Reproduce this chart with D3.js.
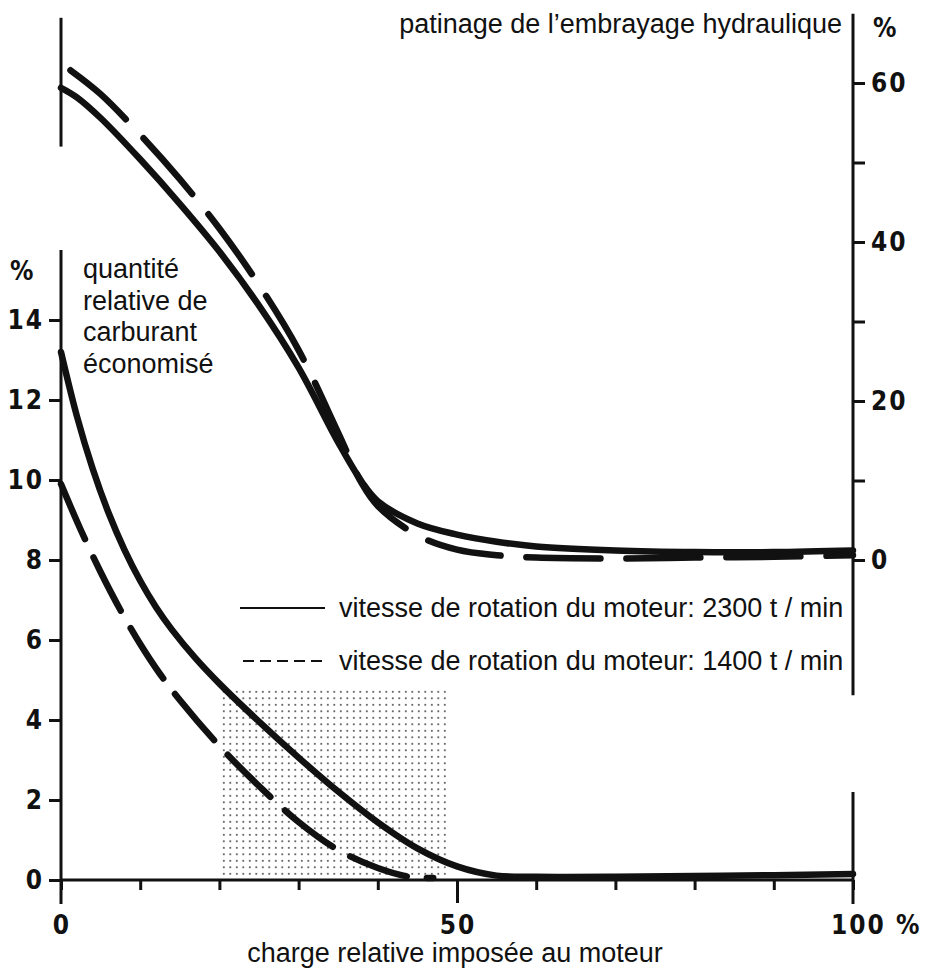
<!DOCTYPE html>
<html>
<head>
<meta charset="utf-8">
<script src="https://cdn.jsdelivr.net/npm/d3@7"></script>
<style>
  body { margin: 0; background: #fff; }
  svg { display: block; }
  .txt { font-family: "Liberation Sans", Arial, Helvetica, sans-serif; font-size: 27px; fill: #111; }
  .num { font-family: "DejaVu Sans Condensed", "DejaVu Sans", sans-serif; font-weight: bold; font-size: 26px; fill: #111; letter-spacing: 2px; }
  .axis path.domain { display: none; }
  .axis line { stroke: #111; stroke-width: 3; }
</style>
</head>
<body>
<div class="chart"></div>
<script>
// ticks
const loadTicks = [0, 10, 20, 30, 40, 50, 60, 70, 80, 90, 100];
const loadLabels = ['0', '50'];
const fuelTicks = [0, 2, 4, 6, 8, 10, 12, 14];
const slipTicks = [0, 10, 20, 30, 40, 50, 60];
const slipLabels = [0, 20, 40, 60];

// quantité relative de carburant économisé (%), 2300 t/min
const fuelLoad2300 = [0, 2, 4, 6, 8, 10, 12, 14, 17, 20, 25, 30, 35, 40, 45, 50, 55, 60, 70, 80, 90, 100];
const fuel2300 = [13.2, 11.6, 10.28, 9.18, 8.26, 7.48, 6.82, 6.26, 5.54, 4.91, 3.96, 3.06, 2.21, 1.44, 0.79, 0.34, 0.11, 0.08, 0.08, 0.1, 0.12, 0.15];
// 1400 t/min
const fuelLoad1400 = [0, 2.5, 5, 7.5, 10, 12.5, 15, 20, 25, 30, 35, 40, 44, 47];
const fuel1400 = [9.9, 8.75, 7.7, 6.75, 5.9, 5.15, 4.5, 3.35, 2.35, 1.45, 0.75, 0.3, 0.08, 0.05];

// patinage de l'embrayage hydraulique (%)
const slipLoad2300 = [0, 2, 5, 10, 15, 20, 25, 30, 35, 38, 40, 45, 50, 55, 60, 70, 80, 90, 100];
const slip2300 = [59.4, 58.2, 55.6, 50.4, 44.8, 38.8, 32.0, 24.2, 14.8, 9.8, 7.4, 4.6, 3.2, 2.3, 1.7, 1.2, 1.0, 1.0, 1.2];
const slipLoad1400 = [1.2, 5, 10, 15, 20, 25, 30, 35, 38, 40, 45, 50, 55, 60, 70, 80, 90, 100];
const slip1400 = [61.6, 58.6, 53.5, 47.9, 41.7, 34.6, 26.4, 16.0, 9.6, 6.8, 3.1, 1.3, 0.6, 0.3, 0.2, 0.3, 0.4, 0.6];

// zone hachurée (charge)
const shadedLoad = [20, 49];
const shadedFuel = 4.8;

const legendLabels = [
    'vitesse de rotation du moteur: 2300 t / min',
    'vitesse de rotation du moteur: 1400 t / min'
];

function zip(xs, ys) {
    return xs.map((d, i) => ({ load: d, value: ys[i] }));
}

function setupCanvas() {
    const svg_width = 931;
    const svg_height = 969;

    const svg = d3.select('.chart').append('svg')
        .attr('width', svg_width).attr('height', svg_height);

    const x = d3.scaleLinear([0, 100], [61, 853]);
    const yFuel = d3.scaleLinear([0, 14], [880, 320]);
    const ySlip = d3.scaleLinear([0, 60], [560, 83]);

    // dotted pattern
    const pat = svg.append('defs').append('pattern')
        .attr('id', 'dots').attr('patternUnits', 'userSpaceOnUse')
        .attr('width', 6.5).attr('height', 6.5);
    pat.append('rect').attr('x', 2).attr('y', 2).attr('width', 1.6).attr('height', 1.6).attr('fill', '#333');

    svg.append('rect')
        .attr('x', x(shadedLoad[0]))
        .attr('y', yFuel(shadedFuel))
        .attr('width', x(shadedLoad[1]) - x(shadedLoad[0]))
        .attr('height', yFuel(0) - yFuel(shadedFuel))
        .attr('fill', 'url(#dots)');

    // axis lines
    const axisLines = [
        [x(0), yFuel(15.75), x(0), yFuel(-0.6)],
        [x(0), ySlip(68.2), x(0), ySlip(52)],
        [x(100), ySlip(68.7), x(100), ySlip(-17)],
        [x(100), yFuel(2.2), x(100), yFuel(-0.6)],
        [x(0), yFuel(0), x(100), yFuel(0)]
    ];
    svg.append('g').selectAll('line').data(axisLines).join('line')
        .attr('x1', d => d[0]).attr('y1', d => d[1])
        .attr('x2', d => d[2]).attr('y2', d => d[3])
        .attr('stroke', '#111').attr('stroke-width', 3);

    const leftAxis = svg.append('g').attr('class', 'axis')
        .attr('transform', `translate(${x(0)},0)`)
        .call(d3.axisLeft(yFuel).tickValues(fuelTicks).tickSize(12).tickPadding(5));
    leftAxis.selectAll('text').attr('class', 'num').attr('font-size', null).attr('font-family', null);

    const rightAxis = svg.append('g').attr('class', 'axis')
        .attr('transform', `translate(${x(100)},0)`)
        .call(d3.axisRight(ySlip).tickValues(slipTicks).tickSize(12).tickPadding(6)
            .tickFormat(d => slipLabels.includes(d) ? d : ''));
    rightAxis.selectAll('text').attr('class', 'num').attr('font-size', null).attr('font-family', null);

    const bottomAxis = svg.append('g').attr('class', 'axis')
        .attr('transform', `translate(0,${yFuel(0)})`)
        .call(d3.axisBottom(x).tickValues(loadTicks).tickSize(10).tickFormat(''));
    bottomAxis.selectAll('.tick line').filter(d => d === 50).attr('y2', 23);

    svg.selectAll('.load-label').data(loadLabels).join('text')
        .attr('class', 'num load-label')
        .attr('x', d => x(+d) + 1).attr('y', 934)
        .attr('text-anchor', 'middle')
        .text(d => d);
    svg.append('text').attr('class', 'num')
        .attr('x', x(100) - 22).attr('y', 934)
        .text('100 %');

    // % units
    svg.append('text').attr('class', 'num').attr('x', 10).attr('y', 280).text('%');
    svg.append('text').attr('class', 'num').attr('x', 873).attr('y', 37).text('%');

    // curves
    const line = (yScale) => d3.line()
        .x(d => x(d.load)).y(d => yScale(d.value))
        .curve(d3.curveCatmullRom.alpha(0.5));

    const curves = [
        { data: zip(slipLoad2300, slip2300), y: ySlip, dash: null },
        { data: zip(slipLoad1400, slip1400), y: ySlip, dash: '74,26' },
        { data: zip(fuelLoad2300, fuel2300), y: yFuel, dash: null },
        { data: zip(fuelLoad1400, fuel1400), y: yFuel, dash: '60,20' }
    ];
    svg.append('g').selectAll('path').data(curves).join('path')
        .attr('d', d => line(d.y)(d.data))
        .attr('fill', 'none')
        .attr('stroke', '#111')
        .attr('stroke-width', 6.5)
        .attr('stroke-linecap', 'round')
        .attr('stroke-dasharray', d => d.dash);

    // legend
    const legend = svg.append('g');
    legend.append('line').attr('x1', 240).attr('x2', 325).attr('y1', 608).attr('y2', 608)
        .attr('stroke', '#111').attr('stroke-width', 2);
    legend.append('line').attr('x1', 243).attr('x2', 322).attr('y1', 661).attr('y2', 661)
        .attr('stroke', '#111').attr('stroke-width', 2).attr('stroke-dasharray', '11,6');
    legend.selectAll('text').data(legendLabels).join('text')
        .attr('class', 'txt')
        .attr('x', 339).attr('y', (d, i) => 617 + i * 53)
        .text(d => d);

    // titles
    svg.append('text').attr('class', 'txt')
        .attr('x', 842).attr('y', 33).attr('text-anchor', 'end')
        .text('patinage de l’embrayage hydraulique');

    const leftTitle = svg.append('text').attr('class', 'txt');
    ['quantité', 'relative de', 'carburant', 'économisé'].forEach((t, i) => {
        leftTitle.append('tspan').attr('x', 83).attr('y', 278 + i * 31.5).text(t);
    });

    svg.append('text').attr('class', 'txt')
        .attr('x', 455).attr('y', 962).attr('text-anchor', 'middle')
        .text('charge relative imposée au moteur');
}

setupCanvas();
</script>
</body>
</html>
